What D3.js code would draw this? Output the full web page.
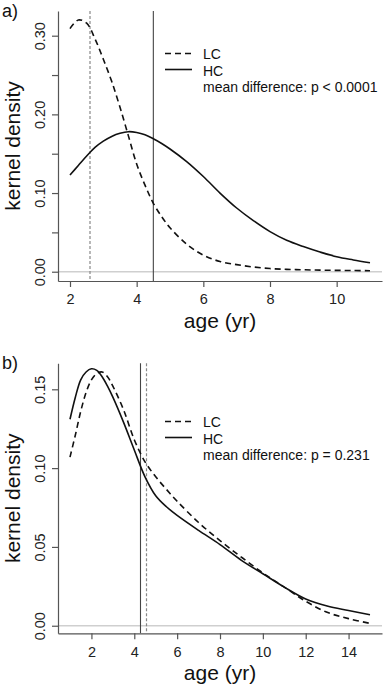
<!DOCTYPE html>
<html>
<head>
<meta charset="utf-8">
<script src="https://cdn.jsdelivr.net/npm/d3@7"></script>
<style>
  body { margin: 0; background: #fff; }
  svg { display: block; font-family: "Liberation Sans", Arial, sans-serif; }
</style>
</head>
<body>
<svg id="chart" width="383" height="685"></svg>
<script>

// Panel a) data
const ageA = [2, 2.25, 2.5, 2.75, 3, 3.25, 3.5, 3.75, 4, 4.25, 4.5, 4.75, 5, 5.5, 6, 6.5, 7, 7.5, 8, 8.5, 9, 9.5, 10, 10.5, 11];
const lcA  = [0.309, 0.320, 0.316, 0.296, 0.270, 0.242, 0.209, 0.173, 0.137, 0.110, 0.087, 0.070, 0.056, 0.035, 0.021, 0.013, 0.009, 0.006, 0.004, 0.003, 0.0025, 0.002, 0.0017, 0.0015, 0.0013];
const hcA  = [0.123, 0.135, 0.147, 0.158, 0.166, 0.172, 0.176, 0.178, 0.177, 0.174, 0.169, 0.163, 0.156, 0.140, 0.121, 0.100, 0.081, 0.065, 0.051, 0.040, 0.032, 0.025, 0.019, 0.015, 0.0115];
const meanA = { LC: 2.6, HC: 4.5 };
const xTicksA = [2, 4, 6, 8, 10];
const yTicksA = [0, 0.05, 0.10, 0.15, 0.20, 0.25, 0.30];
const yLabelsA = [0, 0.10, 0.20, 0.30];
const pTextA = "mean difference: p < 0.0001";

// Panel b) data
const ageB = [1, 1.25, 1.5, 1.75, 2, 2.25, 2.5, 2.75, 3, 3.5, 4, 4.5, 5, 5.5, 6, 7, 8, 9, 10, 11, 12, 13, 14, 15];
const lcB  = [0.107, 0.121, 0.136, 0.148, 0.156, 0.160, 0.161, 0.158, 0.152, 0.137, 0.118, 0.104, 0.0945, 0.0865, 0.079, 0.0655, 0.054, 0.0435, 0.0335, 0.0245, 0.0155, 0.0085, 0.0045, 0.0015];
const hcB  = [0.131, 0.145, 0.156, 0.161, 0.163, 0.162, 0.158, 0.152, 0.145, 0.129, 0.1115, 0.0945, 0.0825, 0.0755, 0.070, 0.0605, 0.0515, 0.0415, 0.033, 0.0245, 0.017, 0.0125, 0.0097, 0.007];
const meanB = { LC: 4.57, HC: 4.29 };
const xTicksB = [2, 4, 6, 8, 10, 12, 14];
const yTicksB = [0, 0.05, 0.10, 0.15];
const yLabelsB = [0, 0.05, 0.10, 0.15];
const pTextB = "mean difference: p = 0.231";

const svg = d3.select("#chart");

// draw one kernel density panel
function drawPanel(p) {
    const x = d3.scaleLinear().domain(p.xDomain).range([58, 382]);
    const y = d3.scaleLinear().domain(p.yDomain).range([p.bottom, p.top]);
    const g = svg.append("g");

    // panel letter
    g.append("text")
        .attr("x", 2).attr("y", p.top + 6)
        .attr("font-size", 18)
        .attr("fill", "#111")
        .text(p.letter);

    // zero reference line
    g.append("line")
        .attr("x1", x.range()[0]).attr("x2", x.range()[1])
        .attr("y1", y(0)).attr("y2", y(0))
        .attr("stroke", "#cfcfcf").attr("stroke-width", 1.5);

    // mean lines
    g.append("line")
        .attr("x1", x(p.mean.LC)).attr("x2", x(p.mean.LC))
        .attr("y1", p.top).attr("y2", p.bottom)
        .attr("stroke", "#888").attr("stroke-width", 1.2)
        .attr("stroke-dasharray", "3,2");
    g.append("line")
        .attr("x1", x(p.mean.HC)).attr("x2", x(p.mean.HC))
        .attr("y1", p.top).attr("y2", p.bottom)
        .attr("stroke", "#444").attr("stroke-width", 1.1);

    // density curves
    const line = d3.line()
        .x(d => x(d[0]))
        .y(d => y(d[1]))
        .curve(d3.curveCatmullRom.alpha(0.5));

    g.append("path")
        .datum(d3.zip(p.age, p.lc))
        .attr("d", line)
        .attr("fill", "none")
        .attr("stroke", "#111").attr("stroke-width", 1.6)
        .attr("stroke-dasharray", "6,4");
    g.append("path")
        .datum(d3.zip(p.age, p.hc))
        .attr("d", line)
        .attr("fill", "none")
        .attr("stroke", "#111").attr("stroke-width", 1.6);

    // axes (L-shaped box like R)
    const xAxis = g.append("g")
        .attr("transform", `translate(0,${p.bottom})`)
        .call(d3.axisBottom(x).tickValues(p.xTicks).tickSize(6).tickSizeOuter(0).tickPadding(7));
    const yAxis = g.append("g")
        .attr("transform", "translate(58,0)")
        .call(d3.axisLeft(y).tickValues(p.yTicks).tickSize(6).tickSizeOuter(0)
            .tickFormat(d => p.yLabels.some(v => Math.abs(v - d) < 1e-9) ? d3.format(".2f")(d) : ""));

    [xAxis, yAxis].forEach(a => {
        a.select(".domain").attr("stroke", "#555").attr("stroke-width", 1.2);
        a.selectAll(".tick line").attr("stroke", "#555").attr("stroke-width", 1.2);
        a.selectAll(".tick text")
            .attr("font-family", "Liberation Sans, Arial, sans-serif")
            .attr("font-size", 14.5)
            .attr("fill", "#222");
    });

    // rotate y tick labels like R's las=0
    yAxis.selectAll(".tick text")
        .attr("x", null).attr("dy", null)
        .attr("text-anchor", "middle")
        .attr("transform", "translate(-13,0) rotate(-90)");

    // axis titles
    g.append("text")
        .attr("x", (x.range()[0] + x.range()[1]) / 2)
        .attr("y", p.bottom + 47)
        .attr("text-anchor", "middle")
        .attr("font-size", 21)
        .attr("fill", "#111")
        .text("age (yr)");
    g.append("text")
        .attr("transform", `translate(20,${(p.top + p.bottom) / 2}) rotate(-90)`)
        .attr("text-anchor", "middle")
        .attr("font-size", 21)
        .attr("fill", "#111")
        .text("kernel density");

    // legend
    const lg = g.append("g").attr("transform", `translate(165,${p.legendY})`);
    lg.append("line").attr("x1", 0).attr("x2", 27).attr("y1", 0).attr("y2", 0)
        .attr("stroke", "#111").attr("stroke-width", 1.6).attr("stroke-dasharray", "6,4");
    lg.append("line").attr("x1", 0).attr("x2", 27).attr("y1", 16).attr("y2", 16)
        .attr("stroke", "#111").attr("stroke-width", 1.6);
    const labels = ["LC", "HC", p.pText];
    lg.selectAll("text.leg")
        .data(labels)
        .enter().append("text")
        .attr("class", "leg")
        .attr("x", 38)
        .attr("y", (d, i) => i * 16.5 + 5.5)
        .attr("font-size", 14)
        .attr("fill", "#111")
        .text(d => d);
}

drawPanel({
    letter: "a)", top: 11, bottom: 281,
    xDomain: [1.64, 11.36], yDomain: [-0.0118, 0.3314],
    age: ageA, lc: lcA, hc: hcA, mean: meanA,
    xTicks: xTicksA, yTicks: yTicksA, yLabels: yLabelsA,
    legendY: 53.5, pText: pTextA
});

drawPanel({
    letter: "b)", top: 363.3, bottom: 633.3,
    xDomain: [0.44, 15.56], yDomain: [-0.0048, 0.1665],
    age: ageB, lc: lcB, hc: hcB, mean: meanB,
    xTicks: xTicksB, yTicks: yTicksB, yLabels: yLabelsB,
    legendY: 421.5, pText: pTextB
});
</script>
</body>
</html>
